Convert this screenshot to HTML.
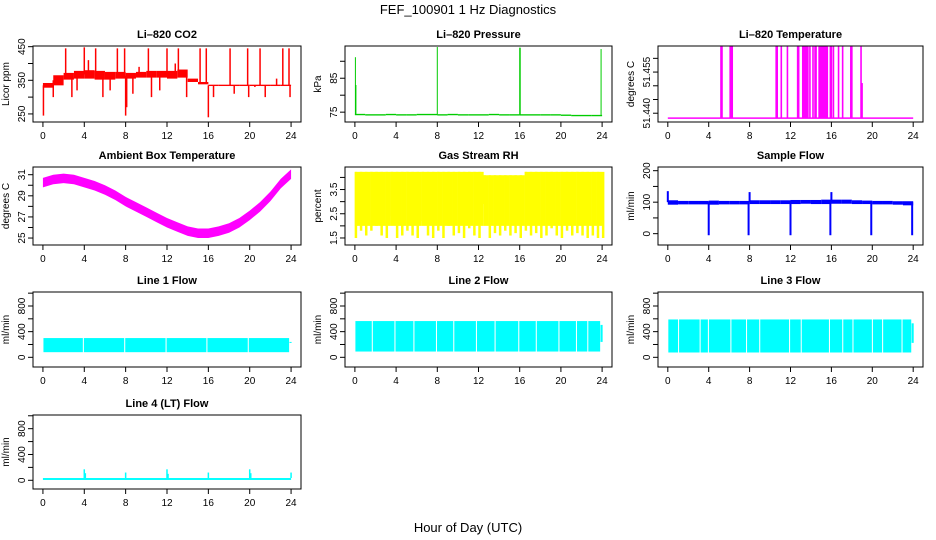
<!DOCTYPE html>
<html><head><meta charset="utf-8"><title>FEF_100901 1 Hz Diagnostics</title>
<style>
html,body{margin:0;padding:0;background:#fff;}
svg{display:block;font-family:"Liberation Sans",Arial,sans-serif;}
</style></head>
<body>
<svg id="chart" width="936" height="540" viewBox="0 0 936 540" xmlns="http://www.w3.org/2000/svg">
<text x="468" y="14" text-anchor="middle" font-size="13">FEF_100901  1 Hz Diagnostics</text>
<text x="468" y="532" text-anchor="middle" font-size="13">Hour of Day (UTC)</text>
</svg>
<script>
// ---------- data ----------
const xTicks = [0,4,8,12,16,20,24];
const co2Lo = [328,335,352,355,355,352,352,355,355,358,358,358,355,358,345,338,333,333,333,333,333,333,333,333];
const co2Hi = [342,365,372,378,380,378,375,375,372,375,378,378,378,382,355,345,337,337,337,337,337,337,337,337];
const co2SpikeHours = [0.05,2.2,4.0,5.1,7.2,7.9,8.0,10.2,12.0,13.1,15.2,15.8,16.0,18.1,19.8,21.0,23.2,23.8,23.9,1.0,2.8,3.3,5.8,6.5,8.1,8.7,10.5,11.3,13.9,16.5,18.5,19.9,20.5,21.5,22.6,4.4,9.3,12.8];
const co2SpikeVals  = [245,445,448,445,445,445,245,445,445,445,445,445,240,445,445,445,445,445,300,300,300,320,300,320,270,310,300,320,300,300,310,300,330,300,355,410,390,400];
const presBase = [74.3,74.2,74.2,74.3,74.2,74.2,74.3,74.3,74.2,74.3,74.2,74.2,74.2,74.3,74.2,74.2,74.2,74.2,74.2,74.2,74.1,74.0,74.0,74.0];
const presSpikeHours = [0.05,0.1,8.0,16.0,16.05,23.9];
const presSpikeVals  = [91.2,83.0,94.2,94.0,94.0,93.6];
const tempBase = 51.4382;
const tempSpikeHours = [5.2,5.3,6.1,6.2,6.3,10.6,10.7,11.1,11.7,12.7,12.8,13.2,13.3,13.4,13.5,13.6,13.7,13.9,14.2,14.4,14.5,14.8,14.9,15.0,15.05,15.1,15.15,15.2,15.25,15.3,15.35,15.4,15.45,15.5,15.6,15.9,16.0,16.2,16.7,17.1,17.9,18.0,18.9,19.0];
const tempSpikeVals  = [51.4643,51.4643,51.4643,51.4643,51.4643,51.4643,51.4643,51.4643,51.4643,51.4643,51.4643,51.4643,51.4643,51.4643,51.4643,51.4643,51.4643,51.4643,51.4643,51.4643,51.4643,51.4643,51.4643,51.4643,51.4643,51.4643,51.4643,51.4643,51.4643,51.4643,51.4643,51.4643,51.4643,51.4643,51.4643,51.4643,51.4643,51.4643,51.4643,51.4643,51.4643,51.4643,51.4643,51.451];
const boxLo = [29.8,30.1,30.2,30.1,29.8,29.5,29.1,28.6,28.0,27.5,27.0,26.5,26.0,25.6,25.2,25.0,25.0,25.2,25.5,26.0,26.7,27.5,28.5,29.7,30.6];
const boxHi = [30.7,31.0,31.1,31.0,30.7,30.4,30.0,29.5,28.9,28.4,27.9,27.4,26.9,26.5,26.1,25.9,25.9,26.1,26.4,26.9,27.6,28.4,29.4,30.6,31.5];
const rhLo = [1.5,1.8,1.6,1.8,2.0,1.6,1.5,2.4,1.5,1.6,1.8,1.6,1.5,2.2,1.6,1.5,1.8,1.5,2.0,1.6,1.7,1.5,1.9,1.6,1.5,2.9,1.5,1.7,1.6,1.8,1.6,1.7,1.5,1.8,1.6,1.7,1.5,1.6,1.9,1.6,1.5,1.8,1.6,1.7,1.6,1.5,1.6,1.5,1.5];
const rhHi = [4.23,4.23,4.23,4.23,4.23,4.23,4.23,4.23,4.23,4.23,4.23,4.23,4.23,4.23,4.23,4.23,4.23,4.23,4.23,4.23,4.23,4.23,4.23,4.23,4.23,4.09,4.09,4.09,4.09,4.09,4.09,4.09,4.09,4.23,4.23,4.23,4.23,4.23,4.23,4.23,4.23,4.23,4.23,4.23,4.23,4.23,4.23,4.23,4.23];
const rhBandLo = 2.0;
const sfLo = [92,93,93,93,92,93,93,93,94,94,94,94,94,95,94,94,95,95,94,94,93,93,92,90];
const sfHi = [106,104,104,104,105,104,104,104,106,106,106,106,107,107,107,108,108,108,106,105,104,104,103,103];
const sfSpikeHours = [0.0,4.0,7.9,8.0,12.0,15.9,16.0,19.9,23.9];
const sfSpikeVals  = [135,-5,-5,132,-5,-5,132,-5,-5];
const l1Gaps = [3.9,7.9,11.9,15.85,19.85];
const l1Lo = 80, l1Hi = 300;
const l2Gaps = [1.68,3.88,5.72,7.91,9.59,11.79,13.6,15.9,17.6,19.8,21.5,22.6];
const l2Lo = 90, l2Hi = 565;
const l3Gaps = [1.04,3.15,3.96,6.16,7.69,8.98,11.9,13.04,15.8,17.1,18.1,20.0,21.0,22.9];
const l3Lo = 75, l3Hi = 590;
const l4Lo = 5, l4Hi = 35;
const l4SpikeHours = [4.0,4.1,8.0,12.0,12.1,16.0,20.0,20.1,24.0];
const l4SpikeVals  = [170,110,120,170,100,120,170,110,120];

// ---------- layout ----------
const colL=[33,345,658], colR=[301,612,923], rowT=[46,167,292,415], rowB=[122,245,367,489];
const panels = [
 {id:'co2',title:'Li\u2013820 CO2',ylab:'Licor ppm',c:0,r:0,y0:226,y1:452,ticks:[250,300,350,400,450],labels:['250','','350','','450'],color:'#ff0000'},
 {id:'pressure',title:'Li\u2013820 Pressure',ylab:'kPa',c:1,r:0,y0:72.1,y1:94.5,ticks:[75,80,85,90],labels:['75','','85',''],color:'#00cc00'},
 {id:'li820-temp',title:'Li\u2013820 Temperature',ylab:'degrees C',c:2,r:0,y0:51.4368,y1:51.4645,ticks:[51.440,51.445,51.450,51.455,51.460],labels:['51.440','','','51.455',''],color:'#ff00ff'},
 {id:'box-temp',title:'Ambient Box Temperature',ylab:'degrees C',c:0,r:1,y0:24.34,y1:31.73,ticks:[25,26,27,28,29,30,31],labels:['25','','27','','29','','31'],color:'#ff00ff'},
 {id:'rh',title:'Gas Stream RH',ylab:'percent',c:1,r:1,y0:1.21,y1:4.43,ticks:[1.5,2.0,2.5,3.0,3.5,4.0],labels:['1.5','','2.5','','3.5',''],color:'#ffff00'},
 {id:'sample-flow',title:'Sample Flow',ylab:'ml/min',c:2,r:1,y0:-36,y1:211.7,ticks:[0,50,100,150,200],labels:['0','','100','','200'],color:'#0000ff'},
 {id:'line1',title:'Line 1 Flow',ylab:'ml/min',c:0,r:2,y0:-151,y1:1018,ticks:[0,200,400,600,800,1000],labels:['0','','400','','800',''],color:'#00ffff'},
 {id:'line2',title:'Line 2 Flow',ylab:'ml/min',c:1,r:2,y0:-151,y1:1018,ticks:[0,200,400,600,800,1000],labels:['0','','400','','800',''],color:'#00ffff'},
 {id:'line3',title:'Line 3 Flow',ylab:'ml/min',c:2,r:2,y0:-151,y1:1018,ticks:[0,200,400,600,800,1000],labels:['0','','400','','800',''],color:'#00ffff'},
 {id:'line4',title:'Line 4 (LT) Flow',ylab:'ml/min',c:0,r:3,y0:-135,y1:1012,ticks:[0,200,400,600,800,1000],labels:['0','','400','','800',''],color:'#00ffff'}
];
const NS='http://www.w3.org/2000/svg';
const svg=document.getElementById('chart');
function mk(parent,tag,attrs){const e=document.createElementNS(NS,tag);for(const k in attrs)e.setAttribute(k,attrs[k]);parent.appendChild(e);return e;}
function X(p,h){return p.L+(h+0.96)*(p.W/25.92);}
function Y(p,v){return p.B-(v-p.y0)/(p.y1-p.y0)*p.H;}

const G={};
panels.forEach(p=>{
  p.L=colL[p.c];p.R=colR[p.c];p.T=rowT[p.r];p.B=rowB[p.r];p.W=p.R-p.L;p.H=p.B-p.T;
  const g=mk(svg,'g',{});
  
  
  const cp=mk(g,'clipPath',{id:'clip-'+p.id});
  mk(cp,'rect',{x:p.L,y:p.T,width:p.W,height:p.H});
  const marks=mk(g,'g',{'clip-path':'url(#clip-'+p.id+')'});
  
  
  p.g=g;p.m=marks;G[p.id]=p;
});

function rect(p,h0,h1,v0,v1,name){
  const x0=X(p,h0),x1=X(p,h1),ya=Y(p,v1),yb=Y(p,v0);
  const e=mk(p.m,'rect',{x:x0,y:ya,width:Math.max(0.8,x1-x0),height:Math.max(1,yb-ya),fill:p.color});
  
  
  return e;
}
function vline(p,h,v0,v1,name,w){
  const e=mk(p.m,'line',{x1:X(p,h),x2:X(p,h),y1:Y(p,v0),y2:Y(p,v1),stroke:p.color,'stroke-width':w||1.5});
  
  
  return e;
}

(function(){const p=G['co2'];
 co2Lo.forEach((lo,i)=>rect(p,i,i+1,lo,co2Hi[i],'co2-band'));
 co2SpikeHours.forEach((h,i)=>{const k=Math.min(23,Math.floor(h));const b=(co2Lo[k]+co2Hi[k])/2;vline(p,h,b,co2SpikeVals[i],'co2-spike');});
})();
(function(){const p=G['pressure'];
 presBase.forEach((v,i)=>rect(p,i,i+1,v-0.2,v+0.2,'pressure-baseline'));
 presSpikeHours.forEach((h,i)=>vline(p,h,presBase[Math.min(23,Math.floor(h))],presSpikeVals[i],'pressure-spike',1));
})();
(function(){const p=G['li820-temp'];
 const e=mk(p.m,'line',{x1:X(p,0),x2:X(p,24),y1:Y(p,tempBase),y2:Y(p,tempBase),stroke:p.color,'stroke-width':1.5});
 
 
 tempSpikeHours.forEach((h,i)=>vline(p,h,tempBase,tempSpikeVals[i],'temperature-spike',1.6));
})();
(function(){const p=G['box-temp'];
 let pts=boxHi.map((v,i)=>X(p,i)+','+Y(p,v));
 for(let i=boxLo.length-1;i>=0;i--)pts.push(X(p,i)+','+Y(p,boxLo[i]));
 const e=mk(p.m,'polygon',{points:pts.join(' '),fill:p.color});
 
 
})();
(function(){const p=G['rh'];
 rhHi.forEach((v,i)=>{if(i<rhHi.length-1)rect(p,i*0.5,i*0.5+0.5,rhBandLo,v,'rh-band');});
 rhLo.forEach((v,i)=>vline(p,i*0.5+0.1,v,rhHi[i],'rh-dip',2.5));
})();
(function(){const p=G['sample-flow'];
 sfLo.forEach((lo,i)=>rect(p,i,i+1,lo,sfHi[i],'sample-flow-band'));
 sfSpikeHours.forEach((h,i)=>vline(p,h,100,sfSpikeVals[i],'sample-flow-spike',2));
})();
function gapped(id,gaps,lo,hi){const p=G[id];
 const edges=[0.05].concat(gaps).concat([23.85]);
 for(let i=0;i<edges.length-1;i++){rect(p,edges[i]+(i?0.06:0),edges[i+1]-0.04,lo,hi,id+'-band');}
 rect(p,23.85,24.05,lo+150,hi-60,id+'-tail');
}
gapped('line1',l1Gaps,l1Lo,l1Hi);
gapped('line2',l2Gaps,l2Lo,l2Hi);
gapped('line3',l3Gaps,l3Lo,l3Hi);
(function(){const p=G['line4'];
 rect(p,0,24,l4Lo,l4Hi,'line4-baseline');
 l4SpikeHours.forEach((h,i)=>vline(p,h,l4Hi,l4SpikeVals[i],'line4-spike',1.5));
})();

panels.forEach(p=>{
  const g=p.g;
  const box=mk(g,'rect',{x:p.L,y:p.T,width:p.W,height:p.H,fill:'none',stroke:'#000','stroke-width':1});
  
  
  const t=mk(g,'text',{x:(p.L+p.R)/2,y:p.T-8,'text-anchor':'middle','font-size':11,'font-weight':'bold'});
  t.textContent=p.title;
  
  
  const yl=mk(g,'text',{x:0,y:0,'text-anchor':'middle','font-size':10,transform:'translate('+(p.L-24)+','+((p.T+p.B)/2)+') rotate(-90)'});
  yl.textContent=p.ylab;
  
  
  const xa=mk(g,'g',{});
  
  
  xTicks.forEach(h=>{
    mk(xa,'line',{x1:X(p,h),x2:X(p,h),y1:p.B,y2:p.B+5,stroke:'#000'});
    const l=mk(xa,'text',{x:X(p,h),y:p.B+17,'text-anchor':'middle','font-size':10});
    l.textContent=h;
  });
  const ya=mk(g,'g',{});
  
  
  p.ticks.forEach((v,i)=>{
    const yy=Y(p,v);
    mk(ya,'line',{x1:p.L-5,x2:p.L,y1:yy,y2:yy,stroke:'#000'});
    if(p.labels[i]){
      const l=mk(ya,'text',{x:0,y:0,'text-anchor':'middle','font-size':10,transform:'translate('+(p.L-8)+','+yy+') rotate(-90)'});
      l.textContent=p.labels[i];
    }
  });
});
</script>
</body></html>
